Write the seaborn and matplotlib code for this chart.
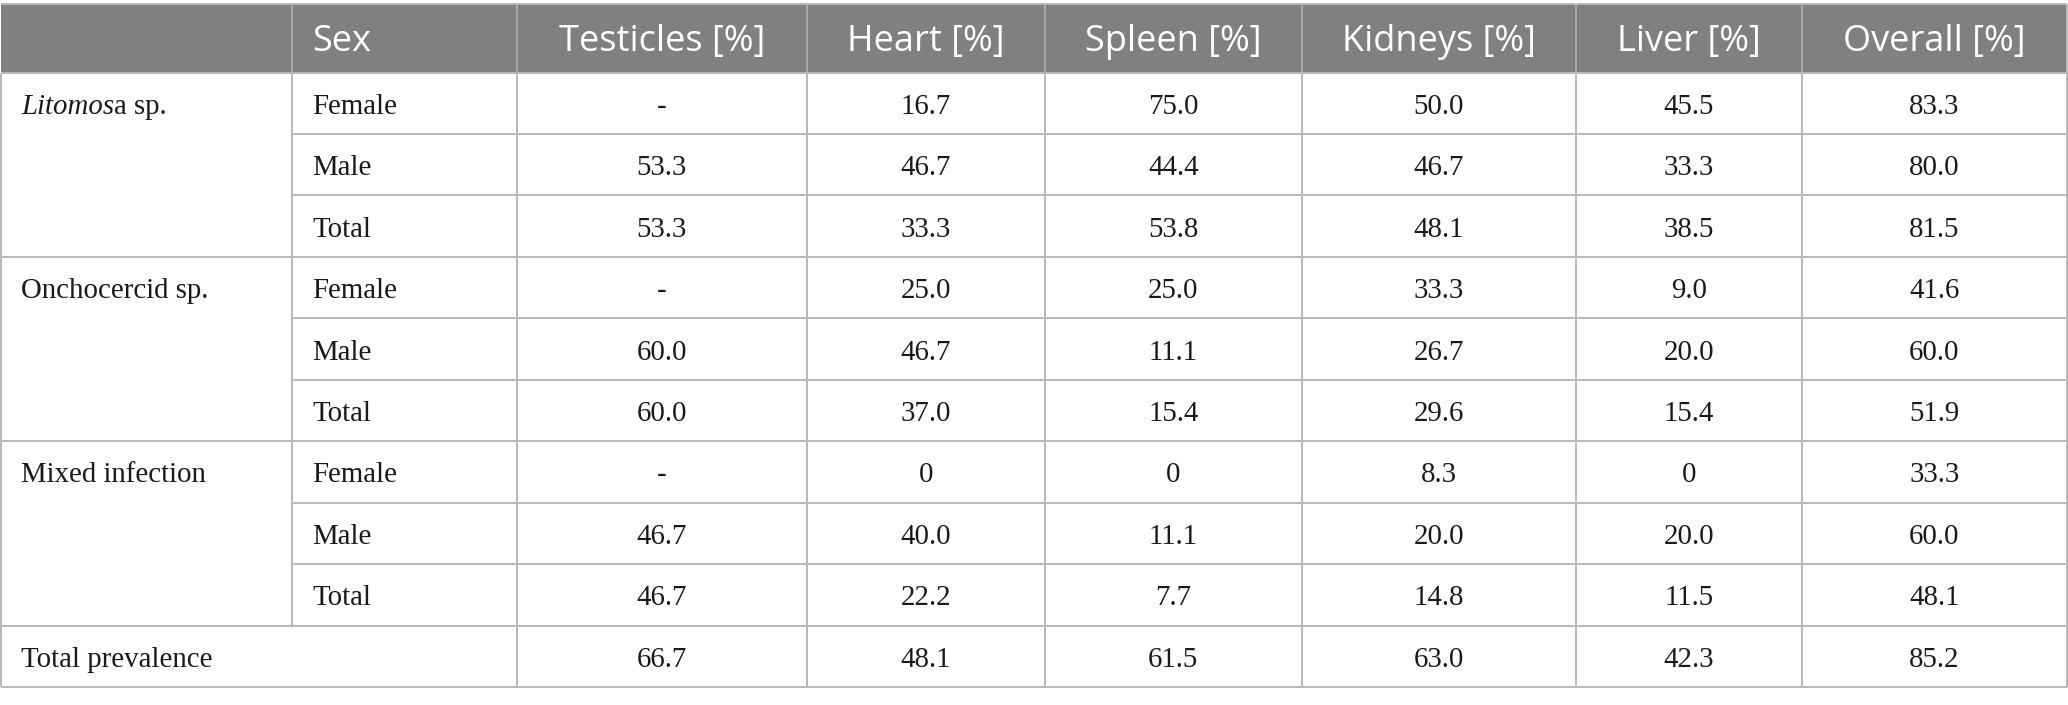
import matplotlib
matplotlib.use("Agg")
import matplotlib.pyplot as plt
from matplotlib.patches import Rectangle
import seaborn as sns

# ---------------- data ----------------
columns = ["", "Sex", "Testicles [%]", "Heart [%]", "Spleen [%]",
           "Kidneys [%]", "Liver [%]", "Overall [%]"]
groups = ["Litomosa sp.", "Onchocercid sp.", "Mixed infection"]
sexes = ["Female", "Male", "Total"]
total_label = "Total prevalence"

testicles = [None, 53.3, 53.3, None, 60.0, 60.0, None, 46.7, 46.7, 66.7]
heart = [16.7, 46.7, 33.3, 25.0, 46.7, 37.0, 0, 40.0, 22.2, 48.1]
spleen = [75.0, 44.4, 53.8, 25.0, 11.1, 15.4, 0, 11.1, 7.7, 61.5]
kidneys = [50.0, 46.7, 48.1, 33.3, 26.7, 29.6, 8.3, 20.0, 14.8, 63.0]
liver = [45.5, 33.3, 38.5, 9.0, 20.0, 15.4, 0, 20.0, 11.5, 42.3]
overall = [83.3, 80.0, 81.5, 41.6, 60.0, 51.9, 33.3, 60.0, 48.1, 85.2]
value_cols = [testicles, heart, spleen, kidneys, liver, overall]

# ---------------- layout / style ----------------
col_edges = [1, 292, 516.5, 807, 1044.5, 1302, 1576, 1801.5, 2067]
header_top, header_bot = 4, 72.5
n_rows = 10
row_h = (687 - header_bot) / n_rows
header_bg = "#7f807f"
header_sep = "#a9aaa9"
grid_col = "#b9b9b9"
lw = 1.4
serif = ["Liberation Serif", "DejaVu Serif"]
sans = ["Open Sans", "DejaVu Sans"]
data_fs = 20.8
head_fs = 26
text_dy = 3.5
head_dy = 4.0


def fmt(v):
    if v is None:
        return "-"
    if v == 0:
        return "0"
    return f"{v:.1f}"


sns.set_theme(style="white")
plt.rcParams["font.family"] = serif

fig = plt.figure(figsize=(20.68, 7.05), dpi=100)
ax = fig.add_axes([0, 0, 1, 1])
ax.set_xlim(0, 2068)
ax.set_ylim(705, 0)
ax.axis("off")

# header background
ax.add_patch(Rectangle((col_edges[0], header_top), col_edges[-1] - col_edges[0],
                       header_bot - header_top, facecolor=header_bg,
                       edgecolor="none", zorder=1))
ax.hlines(header_top, col_edges[0], col_edges[-1], color=grid_col, lw=lw, zorder=3)
for x in col_edges[1:-1]:
    ax.vlines(x, header_top, header_bot, color=header_sep, lw=lw, zorder=2)

# header texts
hy = (header_top + header_bot) / 2 + head_dy
ax.text(col_edges[1] + 20, hy, columns[1], ha="left", va="center",
        color="white", fontsize=head_fs, family=sans, zorder=4)
for j in range(2, len(columns)):
    cx = (col_edges[j] + col_edges[j + 1]) / 2
    ax.text(cx, hy, columns[j], ha="center", va="center",
            color="white", fontsize=head_fs, family=sans, zorder=4)


def row_top(i):
    return header_bot + i * row_h


def row_mid(i):
    return header_bot + (i + 0.5) * row_h + text_dy


bottom = row_top(n_rows)
# outer verticals
ax.vlines(col_edges[0], header_bot, bottom, color=grid_col, lw=lw, zorder=3)
ax.vlines(col_edges[-1], header_top, bottom, color=grid_col, lw=lw, zorder=3)
# inner verticals
ax.vlines(col_edges[1], header_bot, row_top(9), color=grid_col, lw=lw, zorder=3)
for x in col_edges[2:-1]:
    ax.vlines(x, header_bot, bottom, color=grid_col, lw=lw, zorder=3)

# horizontals
for i in range(n_rows + 1):
    if i % 3 == 0 or i == n_rows:
        x0 = col_edges[0]
    else:
        x0 = col_edges[1]
    ax.hlines(row_top(i), x0, col_edges[-1], color=grid_col, lw=lw, zorder=3)

tc = "#1a1a1a"
# group labels
fig.canvas.draw()
renderer = fig.canvas.get_renderer()
for g, name in enumerate(groups):
    y = row_mid(g * 3)
    if name.startswith("Litomos"):
        t1 = ax.text(col_edges[0] + 20, y, "Litomos", ha="left", va="center",
                     fontsize=data_fs, style="italic", color=tc, zorder=4)
        bb = t1.get_window_extent(renderer=renderer)
        x_end = ax.transData.inverted().transform((bb.x1, bb.y0))[0]
        ax.text(x_end, y, name[len("Litomos"):], ha="left", va="center",
                fontsize=data_fs, color=tc, zorder=4)
    else:
        ax.text(col_edges[0] + 20, y, name, ha="left", va="center",
                fontsize=data_fs, color=tc, zorder=4)
    for k, s in enumerate(sexes):
        ax.text(col_edges[1] + 20, row_mid(g * 3 + k), s, ha="left",
                va="center", fontsize=data_fs, color=tc, zorder=4)

ax.text(col_edges[0] + 20, row_mid(9), total_label, ha="left", va="center",
        fontsize=data_fs, color=tc, zorder=4)

# values
for j, vals in enumerate(value_cols):
    cx = (col_edges[j + 2] + col_edges[j + 3]) / 2
    for i, v in enumerate(vals):
        ax.text(cx, row_mid(i), fmt(v), ha="center", va="center",
                fontsize=data_fs, color=tc, zorder=4)

fig.savefig("out.png", dpi=100, facecolor="white")
